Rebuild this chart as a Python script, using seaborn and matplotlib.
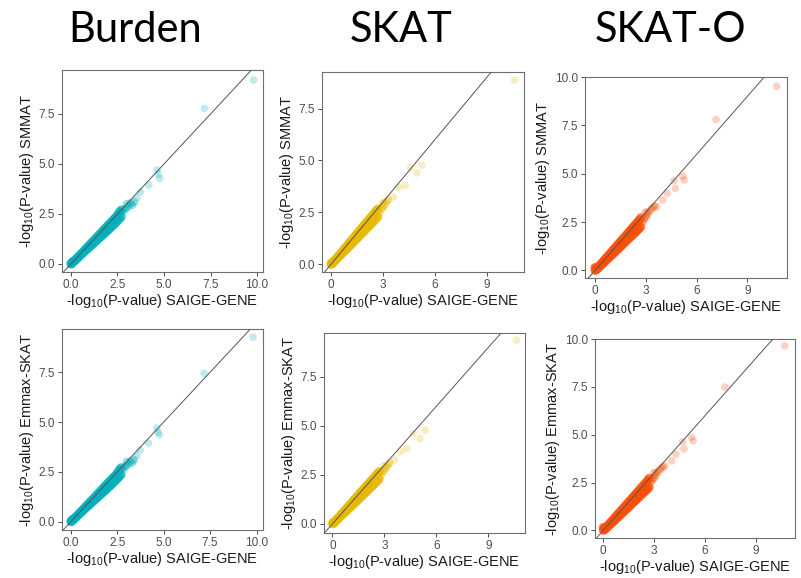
import matplotlib
matplotlib.use("Agg")
import matplotlib.pyplot as plt
import seaborn as sns
import pandas as pd

# ---------------- data ----------------
methods = ["Burden", "SKAT", "SKAT-O"]
colors = ["#00AFBB", "#E7B800", "#FC4E07"]
row_labels = ["SMMAT", "Emmax-SKAT"]

burden_band_x = [0.0, 0.02, 0.05, 0.1, 0.1, 0.15, 0.2, 0.2, 0.3, 0.3, 0.4, 0.4, 0.5, 0.5,
                 0.6, 0.6, 0.7, 0.7, 0.8, 0.8, 0.9, 0.9, 1.0, 1.0, 1.1, 1.1, 1.2, 1.2,
                 1.3, 1.3, 1.4, 1.4, 1.5, 1.5, 1.6, 1.6, 1.7, 1.7, 1.8, 1.8, 1.9, 1.9,
                 2.0, 2.0, 2.1, 2.1, 2.2, 2.2, 2.3, 2.3, 2.4, 2.4, 2.5, 2.5, 2.6, 2.6,
                 2.7, 2.7]
burden_band_y = [0.0, 0.05, 0.02, 0.08, 0.12, 0.13, 0.18, 0.15, 0.27, 0.24, 0.37, 0.33, 0.47, 0.42,
                 0.56, 0.5, 0.66, 0.59, 0.77, 0.68, 0.86, 0.76, 0.96, 0.84, 1.06, 0.93, 1.15, 1.01,
                 1.25, 1.1, 1.35, 1.18, 1.45, 1.27, 1.55, 1.35, 1.65, 1.44, 1.75, 1.52, 1.84, 1.6,
                 1.95, 1.7, 2.04, 1.78, 2.14, 1.87, 2.24, 1.96, 2.33, 2.05, 2.45, 2.15, 2.6, 2.25,
                 2.7, 2.35]
burden_tail_x = [2.8, 2.9, 3.0, 3.0, 3.1, 3.2, 3.3, 3.4]
burden_tail_y = [2.6, 2.75, 3.0, 2.8, 2.9, 3.05, 2.95, 3.1]

skat_band_x = [0.0, 0.02, 0.05, 0.1, 0.1, 0.15, 0.2, 0.2, 0.3, 0.3, 0.4, 0.4, 0.5, 0.5,
               0.6, 0.6, 0.7, 0.7, 0.8, 0.8, 0.9, 0.9, 1.0, 1.0, 1.1, 1.1, 1.2, 1.2,
               1.3, 1.3, 1.4, 1.4, 1.5, 1.5, 1.6, 1.6, 1.7, 1.7, 1.8, 1.8, 1.9, 1.9,
               2.0, 2.0, 2.1, 2.1, 2.2, 2.2, 2.3, 2.3, 2.4, 2.4, 2.5, 2.5, 2.6, 2.6,
               2.7, 2.7]
skat_band_y = [0.0, 0.06, 0.02, 0.09, 0.05, 0.14, 0.19, 0.14, 0.28, 0.22, 0.38, 0.31, 0.48, 0.4,
               0.58, 0.48, 0.68, 0.57, 0.78, 0.65, 0.88, 0.73, 0.98, 0.81, 1.08, 0.9, 1.18, 0.98,
               1.28, 1.07, 1.38, 1.15, 1.48, 1.24, 1.58, 1.32, 1.68, 1.41, 1.78, 1.5, 1.88, 1.58,
               1.98, 1.67, 2.08, 1.75, 2.17, 1.84, 2.27, 1.92, 2.37, 2.01, 2.47, 2.1, 2.57, 2.19,
               2.67, 2.28]
skat_tail_x = [2.8, 2.9, 3.0, 3.0, 3.1, 3.2, 3.3]
skat_tail_y = [2.5, 2.65, 2.95, 2.75, 2.85, 3.0, 3.1]

skato_band_x = [0.0, 0.0, 0.05, 0.1, 0.1, 0.15, 0.2, 0.2, 0.3, 0.3, 0.4, 0.4, 0.5, 0.5,
                0.6, 0.6, 0.7, 0.7, 0.8, 0.8, 0.9, 0.9, 1.0, 1.0, 1.1, 1.1, 1.2, 1.2,
                1.3, 1.3, 1.4, 1.4, 1.5, 1.5, 1.6, 1.6, 1.7, 1.7, 1.8, 1.8, 1.9, 1.9,
                2.0, 2.0, 2.1, 2.1, 2.2, 2.2, 2.3, 2.3, 2.4, 2.4, 2.5, 2.5, 2.6, 2.6,
                2.7, 2.7]
skato_band_y = [0.0, 0.15, 0.1, 0.1, 0.04, 0.15, 0.2, 0.13, 0.29, 0.21, 0.39, 0.3, 0.49, 0.38,
                0.59, 0.46, 0.69, 0.55, 0.79, 0.63, 0.89, 0.71, 0.99, 0.8, 1.09, 0.88, 1.19, 0.96,
                1.29, 1.05, 1.39, 1.13, 1.49, 1.22, 1.59, 1.3, 1.69, 1.39, 1.79, 1.47, 1.89, 1.56,
                1.99, 1.64, 2.09, 1.73, 2.19, 1.81, 2.29, 1.9, 2.39, 1.98, 2.49, 2.07, 2.6, 2.15,
                2.72, 2.25]
skato_tail_x = [2.8, 2.9, 3.0, 3.0, 3.1, 3.2, 3.35, 3.5]
skato_tail_y = [2.5, 2.65, 3.0, 2.75, 2.9, 3.05, 3.2, 3.3]

# outliers per panel (x = SAIGE-GENE, y = comparison method)
burden_smmat_x = [3.55, 3.73, 4.18, 4.62, 4.7, 4.77, 7.17, 9.82]
burden_smmat_y = [3.3, 3.6, 3.95, 4.7, 4.5, 4.28, 7.78, 9.2]
burden_emmax_x = [3.55, 3.73, 4.18, 4.62, 4.7, 4.77, 7.17, 9.82]
burden_emmax_y = [3.3, 3.6, 3.94, 4.7, 4.5, 4.36, 7.45, 9.26]
skat_smmat_x = [3.6, 3.9, 4.29, 4.58, 4.96, 5.25, 10.6]
skat_smmat_y = [3.24, 3.7, 3.8, 4.65, 4.4, 4.77, 8.86]
skat_emmax_x = [3.6, 3.93, 4.28, 4.66, 5.05, 5.34, 10.63]
skat_emmax_y = [3.26, 3.68, 3.85, 4.62, 4.36, 4.79, 9.37]
skato_smmat_x = [3.64, 4.0, 4.27, 4.67, 4.74, 5.18, 5.26, 7.15, 10.73]
skato_smmat_y = [3.3, 3.64, 3.99, 4.64, 4.24, 4.88, 4.67, 7.8, 9.52]
skato_emmax_x = [3.63, 4.03, 4.28, 4.68, 4.75, 5.2, 5.3, 7.17, 10.7]
skato_emmax_y = [3.37, 3.63, 3.98, 4.63, 4.25, 4.86, 4.68, 7.49, 9.65]

x_ticks = [[0, 2.5, 5, 7.5, 10], [0, 3, 6, 9], [0, 3, 6, 9]]
x_ticklabels = [["0.0", "2.5", "5.0", "7.5", "10.0"], ["0", "3", "6", "9"], ["0", "3", "6", "9"]]
y_ticks = [[0, 2.5, 5, 7.5], [0, 2.5, 5, 7.5], [0, 2.5, 5, 7.5, 10]]
y_ticklabels = [["0.0", "2.5", "5.0", "7.5"], ["0.0", "2.5", "5.0", "7.5"],
                ["0.0", "2.5", "5.0", "7.5", "10.0"]]

# ---------------- layout ----------------
W, H = 801, 578
boxes = {
    (0, 0): (62, 70, 263, 272), (0, 1): (322, 72, 524, 272), (0, 2): (585, 77, 787, 278),
    (1, 0): (62, 329, 263, 530), (1, 1): (324, 333, 525, 533), (1, 2): (595, 339, 795, 538),
}
limits = {
    (0, 0): ((-0.48, 10.32), (-0.4, 9.7)), (0, 1): ((-0.52, 11.15), (-0.37, 9.26)),
    (0, 2): ((-0.59, 11.34), (-0.39, 10.0)), (1, 0): ((-0.48, 10.35), (-0.42, 9.67)),
    (1, 1): ((-0.49, 11.12), (-0.47, 9.74)), (1, 2): ((-0.49, 11.3), (-0.4, 10.0)),
}

bands = [(burden_band_x, burden_band_y), (skat_band_x, skat_band_y), (skato_band_x, skato_band_y)]
tails = [(burden_tail_x, burden_tail_y), (skat_tail_x, skat_tail_y), (skato_tail_x, skato_tail_y)]
outl = {
    (0, 0): (burden_smmat_x, burden_smmat_y), (1, 0): (burden_emmax_x, burden_emmax_y),
    (0, 1): (skat_smmat_x, skat_smmat_y), (1, 1): (skat_emmax_x, skat_emmax_y),
    (0, 2): (skato_smmat_x, skato_smmat_y), (1, 2): (skato_emmax_x, skato_emmax_y),
}

sns.set_style("ticks")
plt.rcParams["font.family"] = ["Liberation Sans", "DejaVu Sans"]
plt.rcParams["mathtext.fontset"] = "custom"
plt.rcParams["mathtext.rm"] = "Liberation Sans"
plt.rcParams["mathtext.it"] = "Liberation Sans:italic"

fig = plt.figure(figsize=(W / 100, H / 100), dpi=100)

for (r, c), (l, t, rr, b) in boxes.items():
    ax = fig.add_axes([l / W, 1 - b / H, (rr - l) / W, (b - t) / H])
    bx, by = bands[c]
    tx, ty = tails[c]
    ox, oy = outl[(r, c)]
    # dense core (thousands of overlapping genes -> nearly opaque)
    sns.scatterplot(data=pd.DataFrame({"x": bx, "y": by}), x="x", y="y", ax=ax,
                    color=colors[c], alpha=0.75, s=42, edgecolor="none", linewidth=0)
    # thinning end of the core
    sns.scatterplot(data=pd.DataFrame({"x": tx, "y": ty}), x="x", y="y", ax=ax,
                    color=colors[c], alpha=0.4, s=34, edgecolor="none", linewidth=0)
    # sparse tail
    sns.scatterplot(data=pd.DataFrame({"x": ox, "y": oy}), x="x", y="y", ax=ax,
                    color=colors[c], alpha=0.25, s=30, edgecolor="none", linewidth=0)
    ax.axline((0, 0), slope=1, color="#555555", lw=0.7, zorder=3)
    ax.set_xlim(*limits[(r, c)][0])
    ax.set_ylim(*limits[(r, c)][1])
    ax.set_xticks(x_ticks[c])
    ax.set_xticklabels(x_ticklabels[c])
    ax.set_yticks(y_ticks[c])
    ax.set_yticklabels(y_ticklabels[c])
    ax.tick_params(axis="both", labelsize=8.5, colors="#4D4D4D", length=3, width=0.7,
                   labelcolor="#4D4D4D", pad=2)
    for sp in ax.spines.values():
        sp.set_visible(True)
        sp.set_color("#6E6E6E")
        sp.set_linewidth(0.8)
    ax.set_xlabel(r"-log$_{10}$(P-value) SAIGE-GENE", fontsize=10.5, color="#1A1A1A", labelpad=1)
    ax.set_ylabel(r"-log$_{10}$(P-value) " + row_labels[r], fontsize=10.5, color="#1A1A1A",
                  labelpad=2)

title_x = [135, 401, 670]
for c, m in enumerate(methods):
    fig.text(title_x[c] / W, 1 - 30 / H, m, ha="center", va="center", fontsize=30,
             family=["Lato", "DejaVu Sans"], color="black")

fig.savefig("out.png", dpi=100, facecolor="white")
